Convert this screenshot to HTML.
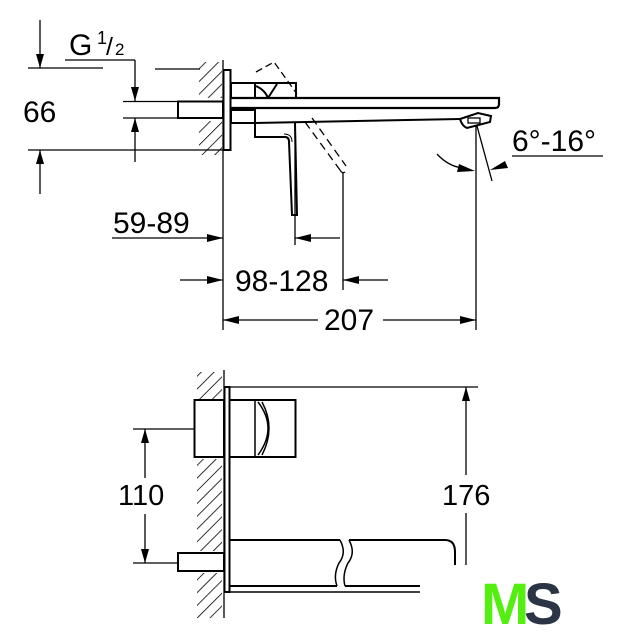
<!DOCTYPE html>
<html><head><meta charset="utf-8"><style>
html,body{margin:0;padding:0;background:#fff}
svg{display:block}
text{font-family:"Liberation Sans",sans-serif;fill:#000}
</style></head><body>
<svg width="627" height="640" viewBox="0 0 627 640" xmlns="http://www.w3.org/2000/svg">
<defs>
<pattern id="h" width="9" height="9" patternUnits="userSpaceOnUse" patternTransform="rotate(45)">
<rect width="9" height="9" fill="#fff"/><line x1="0" y1="0" x2="0" y2="9" stroke="#000" stroke-width="1.6"/>
</pattern>
</defs>
<g fill="none" stroke="#000" stroke-width="1.3">
<rect x="199" y="62" width="23" height="36" fill="url(#h)" stroke="none"/>
<rect x="199" y="121" width="23" height="34" fill="url(#h)" stroke="none"/>
<line x1="223" y1="60" x2="223" y2="330"/>
<rect x="223.5" y="70" width="7" height="80" stroke-width="2"/>
<rect x="178" y="101.5" width="45" height="16.5" stroke-width="2"/>
<rect x="231" y="83" width="24" height="15" stroke-width="2"/>
<rect x="231" y="110" width="24" height="13" stroke-width="2"/>
<path d="M256 83 L296 83 L296 98 M256 86 Q265 90 268 98 M268 98 L277 84" stroke-width="2"/>
<path d="M256 72 L274 62 L297 94" stroke-dasharray="7,4"/>
<path d="M231 98 L499 98 L499 104 Q499 108 495 108 L231 108" stroke-width="2.2"/>
<path d="M255 123 L460 119" stroke-width="2"/>
<path d="M460 119 L478 113 L491 116 L490 122 L467 128 Q462 126 460 119 Z" stroke-width="2" fill="#fff"/>
<rect x="468" y="118" width="12" height="5" stroke-width="1.3"/>
<path d="M255 123 L255 137 L285 137 Q289 137 289 142 L292 215 L297 215 L295 123" stroke-width="2"/>
<path d="M284 134 Q292 134 292 142" stroke-width="1"/>
<line x1="295" y1="123" x2="295" y2="245"/>
<path d="M305 122 L340 170 M312 118 L346 166" stroke-dasharray="8,5"/>
<path d="M340 170 Q342 174 345 172"/>
<line x1="343" y1="172" x2="343" y2="290"/>
<line x1="40" y1="20" x2="40" y2="68"/>
<line x1="28" y1="68" x2="103" y2="68"/>
<line x1="155" y1="69" x2="200" y2="69"/>
<line x1="28" y1="150" x2="223" y2="150"/>
<line x1="40" y1="150" x2="40" y2="194"/>
<line x1="65" y1="60" x2="135" y2="60"/>
<line x1="135" y1="60" x2="135" y2="101"/>
<line x1="123" y1="101.5" x2="178" y2="101.5"/>
<line x1="123" y1="118" x2="178" y2="118"/>
<line x1="135" y1="118" x2="135" y2="162"/>
<line x1="112" y1="238" x2="223" y2="238"/>
<line x1="295" y1="238" x2="340" y2="238"/>
<line x1="180" y1="280" x2="223" y2="280"/>
<line x1="343" y1="280" x2="388" y2="280"/>
<line x1="223" y1="320" x2="318" y2="320"/>
<line x1="383" y1="320" x2="476" y2="320"/>
<line x1="476" y1="125" x2="476" y2="330"/>
<line x1="477" y1="126" x2="492" y2="181"/>
<line x1="512" y1="156" x2="603" y2="156"/>
<path d="M437 154 Q448 166 462 168"/>
<rect x="197" y="372" width="25" height="27" fill="url(#h)" stroke="none"/>
<rect x="197" y="459" width="25" height="92" fill="url(#h)" stroke="none"/>
<rect x="197" y="573" width="25" height="45" fill="url(#h)" stroke="none"/>
<line x1="224" y1="370" x2="224" y2="618"/>
<rect x="224.5" y="387" width="5" height="205" stroke-width="2"/>
<rect x="194.5" y="400" width="29.5" height="57" stroke-width="2"/>
<rect x="229.5" y="400" width="66" height="57" stroke-width="2"/>
<path d="M255 400 L255 457 M258 402 Q278 428 258 455 M262 402 Q276 428 262 455" stroke-width="1.5"/>
<rect x="178" y="553" width="46" height="18" stroke-width="2"/>
<line x1="229" y1="387" x2="478" y2="387"/>
<line x1="133" y1="429" x2="194" y2="429"/>
<line x1="133" y1="563" x2="178" y2="563"/>
<line x1="145" y1="429" x2="145" y2="478"/>
<line x1="145" y1="514" x2="145" y2="563"/>
<line x1="466" y1="387" x2="466" y2="475"/>
<line x1="466" y1="513" x2="466" y2="565"/>
<path d="M229 540 L340 540 M349 540 L445 540 Q455 540 455 552 L455 565" stroke-width="2"/>
<path d="M229 586 L337 586 M345 586 L420 586" stroke-width="2"/>
<line x1="229" y1="592" x2="420" y2="592" stroke-width="1.5"/>
<path d="M340 540 Q347 553 339 563 Q333 575 337 586" stroke-width="1.5"/>
<path d="M349 540 Q356 553 348 563 Q342 575 345 586" stroke-width="1.5"/>
</g>
<g fill="#000" stroke="none">
<path d="M40 68 l-4 -14 l8 0 z"/>
<path d="M40 150 l-4 14 l8 0 z"/>
<path d="M135 101 l-4 -14 l8 0 z"/>
<path d="M135 118 l-4 14 l8 0 z"/>
<path d="M223 238 l-16 -4 l0 8 z"/>
<path d="M295 238 l16 -4 l0 8 z"/>
<path d="M223 280 l-16 -4 l0 8 z"/>
<path d="M343 280 l16 -4 l0 8 z"/>
<path d="M223 320 l16 -4 l0 8 z"/>
<path d="M476 320 l-16 -4 l0 8 z"/>
<path d="M475 171 l-16 -7 l-2 8 z"/>
<path d="M490 170 l15 -9 l3 7 z"/>
<path d="M145 429 l-4 14 l8 0 z"/>
<path d="M145 563 l-4 -14 l8 0 z"/>
<path d="M466 387 l-4 14 l8 0 z"/>
</g>
<text x="23" y="122" font-size="30">66</text>
<text x="69" y="55" font-size="30">G</text>
<text x="97" y="44" font-size="18">1</text>
<text x="106" y="55" font-size="25">/</text>
<text x="115" y="55" font-size="17">2</text>
<text x="113" y="233" font-size="30">59-89</text>
<text x="235" y="291" font-size="30">98-128</text>
<text x="324" y="330" font-size="30">207</text>
<text x="512" y="151" font-size="30">6°-16°</text>
<text x="118" y="505" font-size="29">110</text>
<text x="442" y="505" font-size="29">176</text>
<text x="481" y="624" font-size="58" font-weight="bold" style="fill:#55ee11;letter-spacing:-6px">M</text>
<text x="524" y="624" font-size="58" font-weight="bold" style="fill:#2b3545">S</text>
</svg>
</body></html>
